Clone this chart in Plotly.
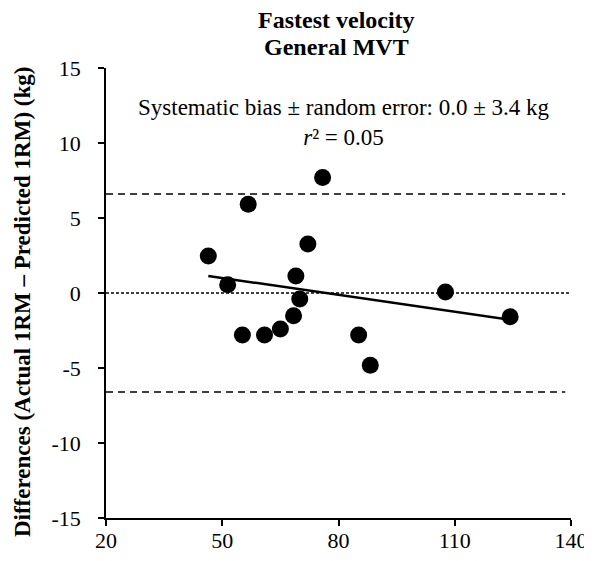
import numpy as np
import plotly.graph_objects as go

# Data
actual_1rm = [46.4, 51.4, 56.7, 55.2, 60.9, 65.0, 68.4, 70.0, 69.0, 72.1, 75.9, 85.2, 88.2, 107.6, 124.3]
differences = [2.47, 0.55, 5.92, -2.80, -2.80, -2.40, -1.52, -0.40, 1.13, 3.27, 7.70, -2.80, -4.81, 0.07, -1.58]
bias = 0.0
loa = 6.6
x_ticks = [20, 50, 80, 110, 140]
y_ticks = [-15, -10, -5, 0, 5, 10, 15]
y_ticktext = ["-15", "-10", "-5", "0", "5", "10", "15"]

FONT = "Liberation Serif"

# regression line
slope, intercept = np.polyfit(actual_1rm, differences, 1)
fit_x = [min(actual_1rm), max(actual_1rm)]
fit_y = [slope * v + intercept for v in fit_x]

fig = go.Figure()
fig.add_trace(go.Scatter(x=[20, 138.5], y=[loa, loa], mode="lines",
                         line=dict(color="black", width=1.5, dash="7px,5px"), hoverinfo="skip"))
fig.add_trace(go.Scatter(x=[20, 138.5], y=[-loa, -loa], mode="lines",
                         line=dict(color="black", width=1.5, dash="7px,5px"), hoverinfo="skip"))
fig.add_trace(go.Scatter(x=[20, 140], y=[bias, bias], mode="lines",
                         line=dict(color="black", width=1.5, dash="3px,2px"), hoverinfo="skip"))
fig.add_trace(go.Scatter(x=fit_x, y=fit_y, mode="lines",
                         line=dict(color="black", width=2.5), hoverinfo="skip"))
fig.add_trace(go.Scatter(x=actual_1rm, y=differences, mode="markers",
                         marker=dict(color="black", size=17, line=dict(width=0))))

# the page has an 8px body margin; the figure starts at (8, 8)
fig.update_layout(
    width=584, height=545, autosize=False,
    margin=dict(l=98, r=21, t=60, b=35, autoexpand=False),
    paper_bgcolor="white", plot_bgcolor="white",
    showlegend=False,
    font=dict(family=FONT, size=22, color="black"),
    xaxis=dict(range=[20, 140], tickvals=x_ticks, showgrid=False, zeroline=False,
               automargin=False, ticklabeloverflow="allow",
               showline=True, linecolor="black", linewidth=1.5,
               ticks="outside", ticklen=6, tickwidth=1.5, tickcolor="black",
               ticklabelstandoff=-4,
               tickfont=dict(family=FONT, size=22)),
    yaxis=dict(range=[-15, 15], tickvals=y_ticks, ticktext=y_ticktext,
               showgrid=False, zeroline=False,
               automargin=False, ticklabeloverflow="allow",
               showline=True, linecolor="black", linewidth=1.5,
               ticks="outside", ticklen=6, tickwidth=1.5, tickcolor="black",
               ticklabelstandoff=13,
               tickfont=dict(family=FONT, size=22)),
)

fig.add_annotation(text="<b>Fastest velocity</b>", xref="paper", yref="paper",
                   x=0.4965, y=(518 - 20) / 450, showarrow=False,
                   font=dict(family=FONT, size=24), yanchor="middle")
fig.add_annotation(text="<b>General MVT</b>", xref="paper", yref="paper",
                   x=0.4965, y=(518 - 47) / 450, showarrow=False,
                   font=dict(family=FONT, size=24), yanchor="middle")
fig.add_annotation(text="Systematic bias ± random error: 0.0 ± 3.4 kg<br><i>r</i>² = 0.05",
                   xref="x", yref="y", x=81.3, y=11.4, showarrow=False,
                   font=dict(family=FONT, size=23), align="center",
                   yanchor="middle")
fig.add_annotation(text="<b>Differences (Actual 1RM – Predicted 1RM) (kg)</b>",
                   xref="paper", yref="paper", x=(22 - 106) / 465.3, y=(518 - 302) / 450,
                   textangle=-90, showarrow=False, font=dict(family=FONT, size=23),
                   xanchor="center", yanchor="middle")

fig.write_html("out.html")
